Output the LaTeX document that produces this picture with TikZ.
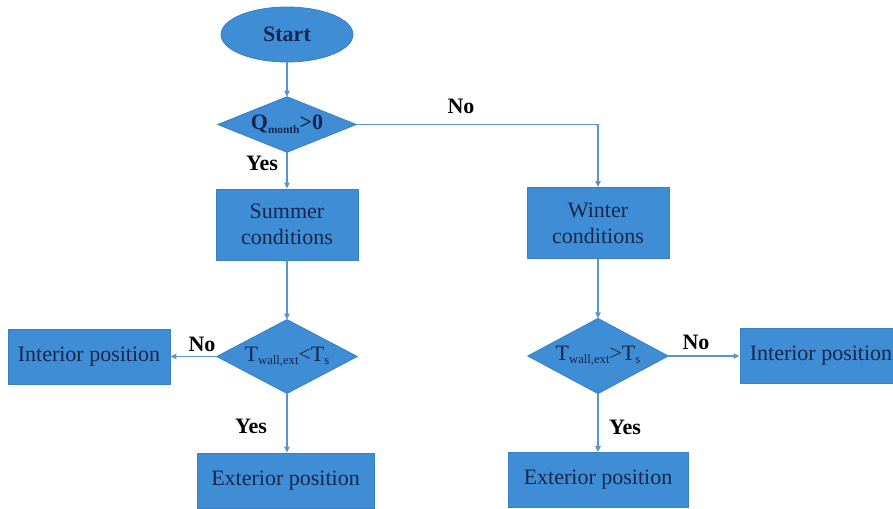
\documentclass[tikz,border=0pt]{standalone}
\usepackage{fontspec}
\setmainfont{Liberation Serif}
\usetikzlibrary{shapes.geometric,arrows.meta,backgrounds}
\definecolor{boxfill}{HTML}{3E8DD5}
\definecolor{boxline}{HTML}{3A80C4}
\definecolor{txt}{HTML}{17264F}
\definecolor{conn}{HTML}{5B95CF}
\begin{document}
\begin{tikzpicture}[x=0.75pt,y=-0.75pt,
  boxnode/.style={rectangle, fill=boxfill, draw=boxline, line width=0.6pt, text=txt,
    font=\fontsize{16.5}{19.5}\selectfont, align=center, inner sep=0pt},
  decnode/.style={rectangle, text=txt,
    font=\fontsize{16.5}{19.5}\selectfont, align=center, inner sep=0pt},
  decshape/.style={fill=boxfill, draw=boxline, line width=0.6pt},
  startnode/.style={ellipse, fill=boxfill, draw=boxline, line width=0.6pt, text=txt,
    font=\fontsize{16.5}{19.5}\selectfont\bfseries, inner sep=0pt},
  lbl/.style={font=\fontsize{16.5}{19.5}\selectfont\bfseries, text=black, inner sep=0pt},
  conn/.style={draw=conn, line width=1pt, -{Triangle[length=4.5pt,width=4pt]}}
]
\useasboundingbox (0,0) rectangle (893,508);
\clip (0,0) rectangle (893,508);

\node[startnode, minimum width=99pt, minimum height=41.25pt] (start) at (287,34.5) {Start};
\node[decnode, minimum width=103.5pt, minimum height=41.25pt] (q) at (287,124.5)
  {\textbf{Q}\raisebox{-0.35ex}{\fontsize{8.5}{8.5}\selectfont\bfseries month}\textbf{>0}};
\node[boxnode, minimum width=106.5pt, minimum height=53.25pt] (summer) at (287,224.5) {Summer\\conditions};
\node[boxnode, minimum width=106.5pt, minimum height=53.25pt] (winter) at (598,223) {Winter\\conditions};

\node[decnode, minimum width=105pt, minimum height=55pt] (dl) at (287,356.5)
  {T\raisebox{-0.3ex}{\fontsize{9.5}{9.5}\selectfont wall,ext}<T\raisebox{-0.3ex}{\fontsize{9.5}{9.5}\selectfont s}};
\node[decnode, minimum width=105pt, minimum height=56pt] (dr) at (598,356)
  {T\raisebox{-0.3ex}{\fontsize{9.5}{9.5}\selectfont wall,ext}>T\raisebox{-0.3ex}{\fontsize{9.5}{9.5}\selectfont s}};

\begin{scope}[on background layer]
  \foreach \d in {q,dl,dr}
    \path[decshape] (\d.north) -- (\d.east) -- (\d.south) -- (\d.west) -- cycle;
\end{scope}

\node[boxnode, minimum width=121.5pt, minimum height=41.25pt] (intl) at (89,357) {Interior position};
\node[boxnode, minimum width=121.5pt, minimum height=41.25pt] (intr) at (821,356) {Interior position};
\node[boxnode, minimum width=132.75pt, minimum height=41.25pt] (extl) at (285.5,480.5) {Exterior position};
\node[boxnode, minimum width=135pt, minimum height=41.25pt] (extr) at (598,480) {Exterior position};

\draw[conn] (start) -- (q.north);
\draw[conn] (q.east) -| (winter.north);
\draw[conn] (q.south) -- (summer);
\draw[conn] (summer) -- (dl.north);
\draw[conn] (winter) -- (dr.north);
\draw[conn] (dl.west) -- (intl.east |- dl.west);
\draw[conn] (dr.east) -- (intr.west |- dr.east);
\draw[conn] (dl.south) -- (extl.north -| dl.south);
\draw[conn] (dr.south) -- (extr.north -| dr.south);

\node[lbl] (lno1) at (461,106) {No};
\node[lbl] (lyes1) at (262,163) {Yes};
\node[lbl] (lno2) at (202,344) {No};
\node[lbl] (lyes2) at (251,426) {Yes};
\node[lbl] (lno3) at (696,342) {No};
\node[lbl] (lyes3) at (625,427) {Yes};
\end{tikzpicture}
\end{document}
